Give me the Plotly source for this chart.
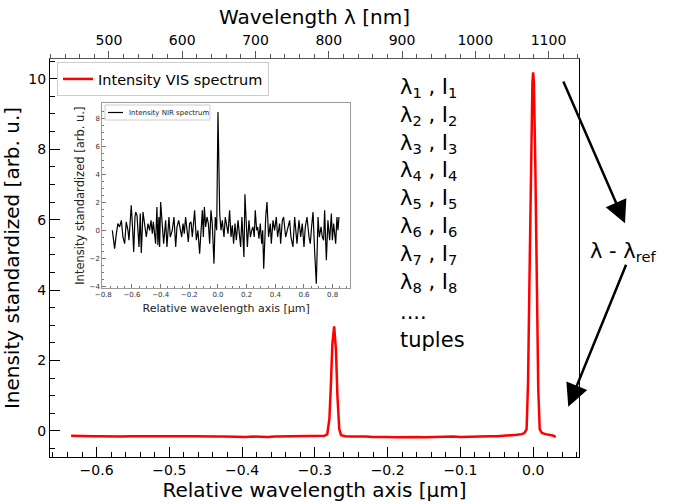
import plotly.graph_objects as go

# ---------------- data ----------------
vis_x = [-0.635, -0.625, -0.615, -0.605, -0.595, -0.585, -0.575, -0.565, -0.555, -0.545,
         -0.535, -0.525, -0.515, -0.505, -0.495, -0.485, -0.475, -0.465, -0.455, -0.445,
         -0.435, -0.425, -0.415, -0.405, -0.395, -0.385, -0.375, -0.365, -0.355, -0.345,
         -0.335, -0.325, -0.315, -0.305, -0.295, -0.287, -0.283, -0.280, -0.278, -0.276,
         -0.2735, -0.271, -0.269, -0.2665, -0.264, -0.258, -0.250, -0.240, -0.230, -0.220,
         -0.210, -0.200, -0.190, -0.180, -0.170, -0.160, -0.150, -0.140, -0.130, -0.120,
         -0.110, -0.100, -0.090, -0.080, -0.070, -0.060, -0.050, -0.040, -0.030, -0.022,
         -0.016, -0.012, -0.009, -0.007, -0.005, -0.003, -0.001, 0.0, 0.001, 0.003,
         0.005, 0.007, 0.009, 0.012, 0.017, 0.022, 0.027, 0.031]
vis_y = [-0.14, -0.15, -0.14, -0.15, -0.15, -0.16, -0.15, -0.16, -0.15, -0.16,
         -0.15, -0.15, -0.14, -0.15, -0.15, -0.14, -0.15, -0.15, -0.16, -0.15,
         -0.16, -0.16, -0.17, -0.16, -0.17, -0.16, -0.17, -0.17, -0.16, -0.16,
         -0.15, -0.16, -0.15, -0.16, -0.15, -0.14, -0.10, 0.35, 1.30, 2.45,
         2.97, 2.30, 1.00, 0.05, -0.12, -0.15, -0.16, -0.15, -0.16, -0.17,
         -0.16, -0.17, -0.18, -0.17, -0.18, -0.17, -0.18, -0.17, -0.16, -0.17,
         -0.16, -0.17, -0.16, -0.15, -0.16, -0.15, -0.15, -0.14, -0.13, -0.11,
         -0.09, -0.06, 0.05, 1.40, 4.40, 7.70, 9.90, 10.18, 9.90, 7.50,
         4.10, 1.20, 0.05, -0.06, -0.09, -0.11, -0.13, -0.17]

nir_x = [-0.737, -0.721, -0.709, -0.698, -0.686, -0.674, -0.663, -0.651, -0.640, -0.628,
         -0.621, -0.612, -0.605, -0.595, -0.588, -0.579, -0.574, -0.565, -0.558, -0.551,
         -0.542, -0.535, -0.523, -0.512, -0.500, -0.488, -0.477, -0.467, -0.458, -0.451,
         -0.442, -0.435, -0.426, -0.419, -0.412, -0.407, -0.400, -0.388, -0.379, -0.365,
         -0.356, -0.342, -0.333, -0.319, -0.307, -0.295, -0.286, -0.274, -0.263, -0.253,
         -0.244, -0.235, -0.226, -0.216, -0.207, -0.198, -0.188, -0.179, -0.170, -0.163,
         -0.151, -0.140, -0.128, -0.119, -0.109, -0.102, -0.095, -0.086, -0.077, -0.067,
         -0.058, -0.049, -0.040, -0.028, -0.019, -0.009, 0.0, 0.012, 0.021, 0.030,
         0.042, 0.051, 0.060, 0.070, 0.081, 0.091, 0.100, 0.109, 0.119, 0.128,
         0.140, 0.149, 0.158, 0.167, 0.174, 0.181, 0.188, 0.198, 0.205, 0.216,
         0.226, 0.235, 0.244, 0.253, 0.260, 0.270, 0.277, 0.286, 0.295, 0.305,
         0.312, 0.319, 0.326, 0.333, 0.342, 0.353, 0.365, 0.372, 0.384, 0.395,
         0.407, 0.416, 0.430, 0.437, 0.449, 0.458, 0.472, 0.486, 0.500, 0.509,
         0.523, 0.535, 0.544, 0.551, 0.565, 0.577, 0.588, 0.600, 0.609, 0.621,
         0.635, 0.644, 0.653, 0.663, 0.674, 0.686, 0.698, 0.707, 0.719, 0.728,
         0.737, 0.744, 0.756, 0.767, 0.779, 0.791, 0.798, 0.807, 0.821, 0.830,
         0.837, 0.844]
nir_y = [0.0, -1.31, -0.24, 0.48, 0.24, 0.71, -0.48, -0.95, 0.60, 0.0,
         -0.71, 0.48, 1.79, 0.0, -1.55, 0.95, 1.31, 1.07, -0.24, -1.19,
         1.19, -1.62, 1.31, 0.48, -0.48, 0.48, 0.0, 0.71, -0.24, 0.60,
         -0.48, -0.95, 1.67, -1.07, 0.95, -1.19, 2.02, -0.24, -0.95, 0.71,
         -1.19, 0.95, -0.48, 0.0, 0.95, -1.19, 0.24, 0.71, 0.0, -0.48,
         0.48, -0.24, 0.95, 0.0, -0.83, 0.48, 0.60, -0.48, 0.36, 1.43,
         -0.71, 0.0, -1.67, 0.24, 1.43, -0.48, 1.67, 0.24, 0.95, 0.48,
         -0.95, 1.43, 0.48, -2.38, 0.95, 0.0, 8.45, 1.19, 0.0, 0.71,
         -0.48, 0.95, 0.48, -0.24, 1.43, -0.48, 0.36, -0.95, 0.48, -0.71,
         0.71, -0.24, -1.19, 0.95, -0.95, -1.90, 2.57, -0.24, -1.19, 0.71,
         -0.48, 0.0, 0.24, -0.48, 1.43, 0.0, 0.24, -0.60, 0.48, -0.95,
         0.0, -2.74, -0.48, 0.95, 2.02, -0.48, 0.48, -0.95, 0.71, 0.0,
         0.95, -0.48, 0.48, -0.95, 0.71, 0.95, -0.48, 0.24, 0.71, -0.48,
         -1.19, 0.95, 0.0, -0.95, 0.71, -0.48, 0.48, -1.19, 0.24, 0.95,
         -0.48, -0.95, 0.24, 1.31, -1.43, -3.81, 0.95, -0.48, 0.24, -0.48,
         -0.71, 1.43, -2.14, 0.71, -0.71, 1.19, -0.71, 0.48, -0.95, 0.95,
         0.0, 0.95]

top_ticks = [500, 600, 700, 800, 900, 1000, 1100]

tuple_labels = ["λ<sub>1</sub> , I<sub>1</sub>", "λ<sub>2</sub> , I<sub>2</sub>",
                "λ<sub>3</sub> , I<sub>3</sub>", "λ<sub>4</sub> , I<sub>4</sub>",
                "λ<sub>5</sub> , I<sub>5</sub>", "λ<sub>6</sub> , I<sub>6</sub>",
                "λ<sub>7</sub> , I<sub>7</sub>", "λ<sub>8</sub> , I<sub>8</sub>",
                "....", "tuples"]

FONT = "DejaVu Sans"

# plot-area geometry (pixels) used only for placing annotations
PL, PR, PT, PB = 50, 579, 59, 457


def px(xp):
    return (xp - PL) / (PR - PL)


def py(yp):
    return (PB - yp) / (PB - PT)


fig = go.Figure()

fig.add_trace(go.Scatter(x=vis_x, y=vis_y, mode="lines", name="Intensity VIS spectrum",
                         line=dict(color="#ff0000", width=2.5), xaxis="x", yaxis="y",
                         legend="legend"))
fig.add_trace(go.Scatter(x=top_ticks, y=[None] * len(top_ticks), mode="lines",
                         showlegend=False, hoverinfo="skip", xaxis="x2", yaxis="y"))
fig.add_trace(go.Scatter(x=nir_x, y=nir_y, mode="lines", name="Intensity NIR spectrum",
                         line=dict(color="black", width=1.2), xaxis="x3", yaxis="y3",
                         showlegend=False))

axis_common = dict(showgrid=False, zeroline=False, showline=True, automargin=False)

fig.update_layout(
    template="none",
    width=686, height=504, autosize=False,
    margin=dict(l=PL, r=686 - PR, t=PT, b=504 - PB, pad=0),
    paper_bgcolor="white", plot_bgcolor="white",
    font=dict(family=FONT, color="black"),
    xaxis=dict(**axis_common, domain=[0, 1], anchor="y", range=[-0.664, 0.063],
               tick0=0, dtick=0.1, tickformat=".1f", ticks="inside", ticklen=10,
               tickcolor="black", linecolor="black", linewidth=1, mirror=True,
               minor=dict(dtick=0.02, ticks="inside", ticklen=5, tickcolor="black"),
               tickfont=dict(size=14),
               title=dict(text="Relative wavelength axis [μm]", font=dict(size=20), standoff=2)),
    yaxis=dict(**axis_common, domain=[0, 1], anchor="x", range=[-0.74, 10.56],
               tick0=0, dtick=2, ticks="inside", ticklen=10, tickcolor="black",
               linecolor="black", linewidth=1, mirror=True,
               minor=dict(dtick=0.5, ticks="inside", ticklen=5, tickcolor="black"),
               tickfont=dict(size=14),
               title=dict(text="Inensity standardized [arb. u.]", font=dict(size=20), standoff=6)),
    xaxis2=dict(**axis_common, overlaying="x", side="top", anchor="y",
                range=[419.5, 1141.6], tick0=0, dtick=100, ticks="outside", ticklen=7,
                tickcolor="#555", linecolor="#555", linewidth=1,
                minor=dict(dtick=20, ticks="outside", ticklen=4, tickcolor="#555"),
                tickfont=dict(size=14),
                title=dict(text="Wavelength λ [nm]", font=dict(size=20), standoff=2)),
    xaxis3=dict(**axis_common, domain=[px(102.3), px(350)], anchor="y3",
                range=[-0.807, 0.921], tick0=0, dtick=0.2, tickformat=".1f",
                ticks="inside", ticklen=4, tickcolor="#777", linecolor="#999",
                linewidth=1, mirror=True,
                minor=dict(dtick=0.05, ticks="inside", ticklen=2, tickcolor="#777"),
                tickfont=dict(size=7, color="#333"),
                title=dict(text="Relative wavelength axis [μm]", font=dict(size=11, color="#222"),
                           standoff=5)),
    yaxis3=dict(**axis_common, domain=[py(288), py(103.3)], anchor="x3",
                range=[-4.12, 9.07], tick0=0, dtick=2, ticks="inside", ticklen=4,
                tickcolor="#777", linecolor="#999", linewidth=1, mirror=True,
                minor=dict(dtick=0.5, ticks="inside", ticklen=2, tickcolor="#777"),
                tickfont=dict(size=7, color="#333"),
                title=dict(text="Intensity standardized [arb. u.]", font=dict(size=11.5, color="#222"),
                           standoff=2)),
    legend=dict(x=px(57), y=py(62), xanchor="left", yanchor="top",
                bgcolor="white", bordercolor="#cccccc", borderwidth=1,
                font=dict(size=14.5, family=FONT)),
)

# inset legend (drawn as a small key box)
fig.add_shape(type="rect", xref="paper", yref="paper", x0=px(105), x1=px(210),
              y0=py(120), y1=py(105), line=dict(color="#cccccc", width=1),
              fillcolor="rgba(255,255,255,0.8)", layer="above")
fig.add_shape(type="line", xref="paper", yref="paper", x0=px(108), x1=px(123),
              y0=py(112.5), y1=py(112.5), line=dict(color="black", width=1.2), layer="above")
fig.add_annotation(text="Intensity NIR spectrum", xref="paper", yref="paper",
                   x=px(127), y=py(112.5), xanchor="left", yanchor="middle",
                   showarrow=False, font=dict(size=7, family=FONT, color="#222"))

# tuple text list
row_y = [88, 115.8, 143.6, 171.4, 199.2, 227, 254.8, 282.6, 311.7, 340]
for label, yy in zip(tuple_labels, row_y):
    fig.add_annotation(text=label, xref="paper", yref="paper", x=px(398), y=py(yy),
                       xanchor="left", yanchor="middle", showarrow=False,
                       font=dict(size=21, family=FONT, color="black"))

fig.add_annotation(text="λ - λ<sub>ref</sub>", xref="paper", yref="paper",
                   x=px(588), y=py(251.7), xanchor="left", yanchor="middle",
                   showarrow=False, font=dict(size=21, family=FONT, color="black"))

# arrows
fig.add_annotation(text="", xref="paper", yref="paper", x=px(625), y=py(223.3),
                   ax=562.7 - 625, ay=80 - 223.3, showarrow=True, arrowhead=2,
                   arrowsize=1.8, arrowwidth=2.5, arrowcolor="black")
fig.add_annotation(text="", xref="paper", yref="paper", x=px(568.3), y=py(406.7),
                   ax=626.7 - 568.3, ay=263.3 - 406.7, showarrow=True, arrowhead=2,
                   arrowsize=1.8, arrowwidth=2.5, arrowcolor="black")

fig.write_html("out.html", config={"displayModeBar": False},
               post_script="document.body.style.margin='0';document.body.style.overflow='hidden';")
